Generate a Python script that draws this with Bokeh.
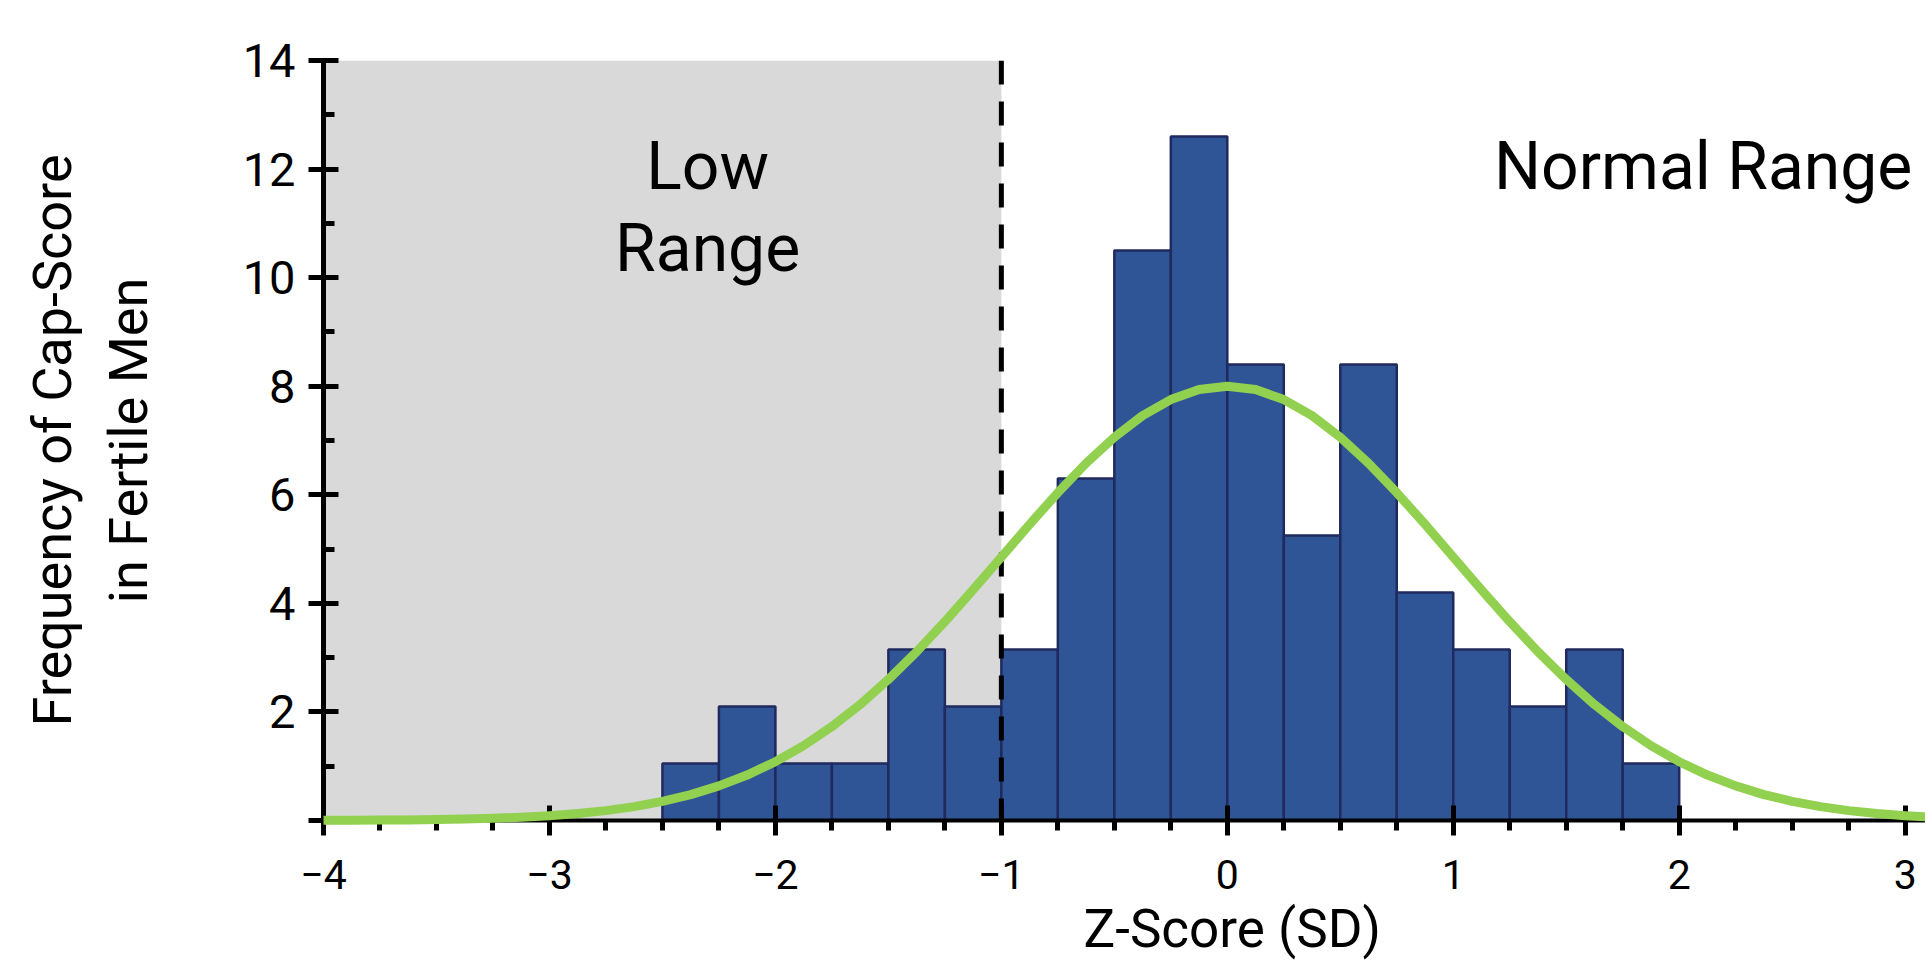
from bokeh.plotting import figure
from bokeh.models import FixedTicker, Range1d, BoxAnnotation, Span, Label, Title
from bokeh.embed import file_html
from bokeh.resources import INLINE

# ---------------- data ----------------
bin_edges = [-2.5, -2.25, -2.0, -1.75, -1.5, -1.25, -1.0, -0.75, -0.5, -0.25,
             0.0, 0.25, 0.5, 0.75, 1.0, 1.25, 1.5, 1.75, 2.0]
frequency = [1.05, 2.1, 1.05, 1.05, 3.15, 2.1, 3.15, 6.3, 10.5, 12.6,
             8.4, 5.25, 8.4, 4.2, 3.15, 2.1, 3.15, 1.05]

curve_x = [-4.0, -3.875, -3.75, -3.625, -3.5, -3.375, -3.25, -3.125,
           -3.0, -2.875, -2.75, -2.625, -2.5, -2.375, -2.25, -2.125,
           -2.0, -1.875, -1.75, -1.625, -1.5, -1.375, -1.25, -1.125,
           -1.0, -0.875, -0.75, -0.625, -0.5, -0.375, -0.25, -0.125,
           0.0, 0.125, 0.25, 0.375, 0.5, 0.625, 0.75, 0.875,
           1.0, 1.125, 1.25, 1.375, 1.5, 1.625, 1.75, 1.875,
           2.0, 2.125, 2.25, 2.375, 2.5, 2.625, 2.75, 2.875,
           3.0, 3.125, 3.25]
curve_y = [0.003, 0.004, 0.007, 0.011, 0.018, 0.027, 0.041, 0.061,
           0.089, 0.128, 0.182, 0.255, 0.352, 0.477, 0.637, 0.837,
           1.083, 1.379, 1.730, 2.136, 2.598, 3.109, 3.662, 4.249,
           4.852, 5.456, 6.038, 6.581, 7.060, 7.457, 7.754, 7.938,
           8.0, 7.938, 7.754, 7.457, 7.060, 6.581, 6.038, 5.456,
           4.852, 4.249, 3.662, 3.109, 2.598, 2.136, 1.730, 1.379,
           1.083, 0.837, 0.637, 0.477, 0.352, 0.255, 0.182, 0.128,
           0.089, 0.061, 0.041]

x_major = [-4, -3, -2, -1, 0, 1, 2, 3]
x_minor = [-3.75, -3.5, -3.25, -2.75, -2.5, -2.25, -1.75, -1.5, -1.25,
           -0.75, -0.5, -0.25, 0.25, 0.5, 0.75, 1.25, 1.5, 1.75,
           2.25, 2.5, 2.75]
y_major = [0, 2, 4, 6, 8, 10, 12, 14]
y_minor = [1, 3, 5, 7, 9, 11, 13]

low_range = (-4.0, -1.0)
cutoff = -1.0
x_limits = (-4.0, 3.09)
y_limits = (0.0, 14.0)

FONT = "Roboto"

p = figure(width=1925, height=969, output_backend="svg", toolbar_location=None,
           x_range=Range1d(*x_limits), y_range=Range1d(*y_limits),
           min_border_left=323, min_border_top=60, min_border_right=0,
           min_border_bottom=149)
p.outline_line_color = None
p.xgrid.visible = False
p.ygrid.visible = False
p.background_fill_color = "white"

# shaded low range
p.add_layout(BoxAnnotation(left=low_range[0], right=low_range[1],
                           bottom=y_limits[0], top=y_limits[1],
                           fill_color="#d9d9d9", fill_alpha=1.0,
                           line_alpha=0, level="underlay"))

# histogram
p.quad(left=bin_edges[:-1], right=bin_edges[1:], bottom=0, top=frequency,
       fill_color="#2f5597", line_color="#202a5e", line_width=2.5)

# cutoff dashed line
p.add_layout(Span(location=cutoff, dimension="height", line_color="black",
                  line_width=5, line_dash="24 17", level="annotation"))

# normal curve
p.line(curve_x, curve_y, line_color="#92d050", line_width=9,
       line_join="round", level="overlay")

# range labels
for txt, yy in (("Low", 12.05), ("Range", 10.53)):
    p.add_layout(Label(x=-2.3, y=yy, text=txt, text_align="center",
                       text_baseline="middle", text_font=FONT,
                       text_font_size="66px", text_color="black"))
p.add_layout(Label(x=1.18, y=12.05, text="Normal Range", text_align="left",
                   text_baseline="middle", text_font=FONT,
                   text_font_size="66px", text_color="black"))

# x axis title (centred under zero in the original)
p.add_layout(Title(text="Z-Score (SD)", align="left", offset=760,
                   vertical_align="bottom", standoff=9,
                   text_font=FONT, text_font_size="53px",
                   text_font_style="normal", text_color="black"), "below")

# x axis
xa = p.xaxis[0]
xa.ticker = FixedTicker(ticks=x_major, minor_ticks=x_minor)
xa.axis_line_width = 4
xa.axis_line_color = "black"
xa.major_tick_line_width = 5
xa.major_tick_in = 15
xa.major_tick_out = 15
xa.minor_tick_line_width = 5
xa.minor_tick_in = 0
xa.minor_tick_out = 10
xa.major_label_text_font = FONT
xa.major_label_text_font_size = "41px"
xa.major_label_text_color = "black"
xa.major_label_standoff = 24

# y axis
ya = p.yaxis[0]
ya.ticker = FixedTicker(ticks=y_major, minor_ticks=y_minor)
ya.major_label_overrides = {0: ""}
ya.axis_line_width = 5
ya.axis_line_color = "black"
ya.major_tick_line_width = 5
ya.major_tick_in = 15
ya.major_tick_out = 15
ya.minor_tick_line_width = 5
ya.minor_tick_in = 11
ya.minor_tick_out = 0
ya.major_label_text_font = FONT
ya.major_label_text_font_size = "47px"
ya.major_label_text_color = "black"
ya.major_label_standoff = 13
ya.axis_label = "Frequency of Cap-Score\nin Fertile Men"
ya.axis_label_text_font = FONT
ya.axis_label_text_font_size = "54px"
ya.axis_label_text_font_style = "normal"
ya.axis_label_text_color = "black"
ya.axis_label_standoff = 80

open("out.html", "w").write(file_html(p, INLINE))
